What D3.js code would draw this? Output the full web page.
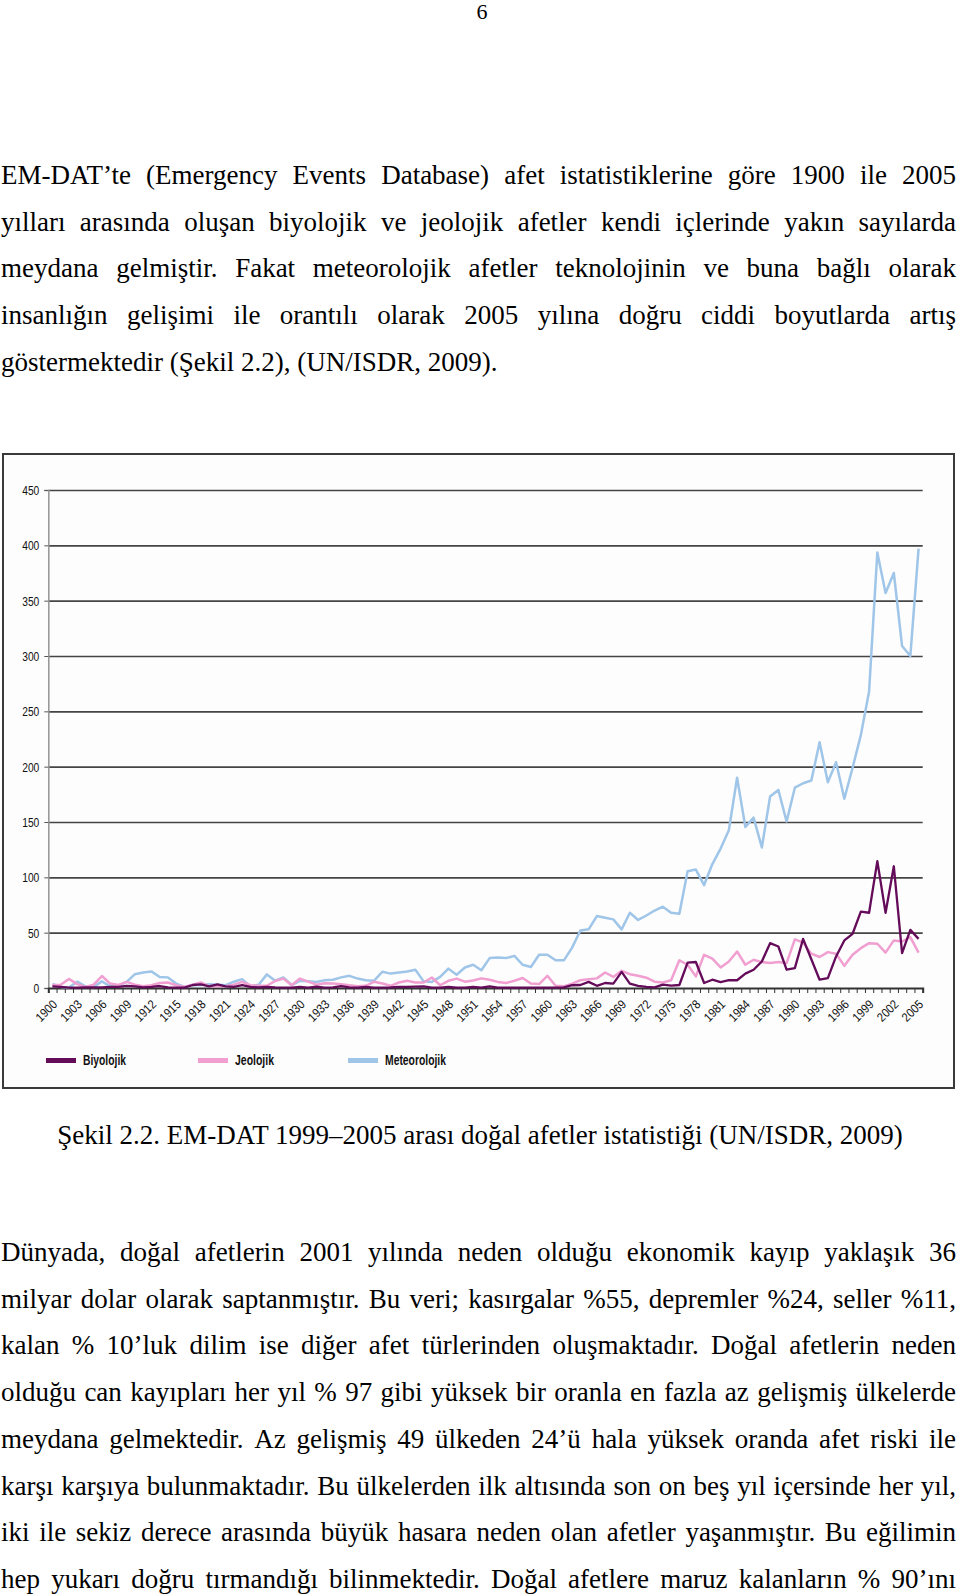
<!DOCTYPE html>
<html>
<head>
<meta charset="utf-8">
<script src="https://cdn.jsdelivr.net/npm/d3@7"></script>
<style>
  body { margin: 0; background: #fff; }
  svg { display: block; }
</style>
</head>
<body>
<div id="page"></div>
<script>
// ---- data ----
const years = d3.range(1900, 2006);

const biyolojik = [
  1.5, 1, 0.3, 0.3, 0.5, 0.5, 0.5, 1, 1, 2,
  1.5, 0.5, 1, 1.8, 0.5, 0.3, 0.3, 2.7, 3.3, 1.5,
  3.3, 1.5, 1, 2.7, 1, 0.5, 1, 0.5, 0.3, 0.3,
  1, 0.3, 1.2, 0.3, 0.5, 1.8, 0.5, 0.3, 1, 0.3,
  0.3, 0.5, 1, 1, 1.2, 1.5, 0.3, 0.3, 1, 0.3,
  0.3, 1, 0.3, 1.5, 0.3, 0.3, 0.3, 0.3, 0.3, 0.3,
  0.3, 0.3, 0.5, 2.5, 2.7, 5.5, 2, 4.5, 4, 14.5,
  4, 2, 1, 0.5, 3, 2.2, 2.7, 23, 23.5, 4.5,
  7.5, 5.4, 7.2, 7, 13, 16.5, 24, 40.5, 37.5, 16.5,
  18, 44.4, 26, 7.5, 9, 28.5, 43, 49, 69, 68,
  114.6, 68, 110, 31.5, 52.5, 44.4
];

const jeolojik = [
  2.5, 3, 8.2, 3.5, 1, 3, 10.8, 4, 2.7, 5.5,
  3, 1.5, 2.5, 4.6, 5, 2.5, 1, 3, 5, 1.5,
  1.5, 1.5, 3, 5.5, 2.5, 2, 2, 6.3, 8.5, 2.5,
  8.5, 5.7, 3, 4.2, 4, 3.5, 2.5, 1.5, 2, 5.7,
  4, 2, 5, 6.5, 5, 5, 9.5, 2.5, 6.5, 8.5,
  5.7, 6.8, 8.7, 7.5, 5.5, 4.5, 6.6, 9, 4, 3.6,
  11, 2, 1.5, 4, 7, 8, 8.7, 14, 10, 15.5,
  12.5, 11, 9.3, 5.7, 5, 7, 25, 21, 10.5, 30,
  26.5, 18.6, 24, 33, 21, 25.5, 23.4, 22.5, 23.4, 22.5,
  44, 41, 31, 28, 32.4, 31, 20, 30, 36, 40.5,
  40, 32, 43, 42, 46, 32
];

const meteorolojik = [
  3.6, 1, 0.5, 5.7, 1.5, 1, 6, 1.5, 2, 5.5,
  12.5, 14, 15, 10, 9.6, 4, 1, 2.5, 2.7, 3.5,
  3, 2.5, 5.7, 8, 1.5, 3, 12.3, 6.6, 9.5, 2.7,
  6.5, 6, 5.5, 7, 7.5, 9.6, 11, 8.5, 7, 6.6,
  14.7, 13, 14, 15, 16.5, 6, 5.5, 10, 17.5, 12,
  18.5, 21, 16, 27, 27.5, 27, 29, 21, 19, 30,
  30, 25, 25, 36.5, 52, 53, 65, 63.5, 62, 53,
  68, 61.5, 65.5, 70, 73.5, 68, 67, 105.5, 107, 93,
  112, 126, 142.5, 190, 145.5, 154, 127, 173, 179, 150.5,
  181, 185, 187.5, 222, 186, 204, 171, 199, 228.5, 268,
  393.5, 357, 375, 309, 300, 397
];

const seriesNames = ['Biyolojik', 'Jeolojik', 'Meteorolojik'];
const yTicks = d3.range(0, 451, 50);
const xLabelYears = d3.range(1900, 2006, 3);

const pageNumber = '6';
const topLines = [
  'EM-DAT’te (Emergency Events Database) afet istatistiklerine göre 1900 ile 2005',
  'yılları arasında oluşan biyolojik ve jeolojik afetler kendi içlerinde yakın sayılarda',
  'meydana gelmiştir. Fakat meteorolojik afetler teknolojinin ve buna bağlı olarak',
  'insanlığın gelişimi ile orantılı olarak 2005 yılına doğru ciddi boyutlarda artış',
  'göstermektedir (Şekil 2.2), (UN/ISDR, 2009).'
];
const captionText = 'Şekil 2.2. EM-DAT 1999–2005 arası doğal afetler istatistiği (UN/ISDR, 2009)';
const bottomLines = [
  'Dünyada, doğal afetlerin 2001 yılında neden olduğu ekonomik kayıp yaklaşık 36',
  'milyar dolar olarak saptanmıştır. Bu veri; kasırgalar %55, depremler %24, seller %11,',
  'kalan % 10’luk dilim ise diğer afet türlerinden oluşmaktadır. Doğal afetlerin neden',
  'olduğu can kayıpları her yıl % 97 gibi yüksek bir oranla en fazla az gelişmiş ülkelerde',
  'meydana gelmektedir. Az gelişmiş 49 ülkeden 24’ü hala yüksek oranda afet riski ile',
  'karşı karşıya bulunmaktadır. Bu ülkelerden ilk altısında son on beş yıl içersinde her yıl,',
  'iki ile sekiz derece arasında büyük hasara neden olan afetler yaşanmıştır. Bu eğilimin',
  'hep yukarı doğru tırmandığı bilinmektedir. Doğal afetlere maruz kalanların % 90’ını'
];

// ---- page ----
const W = 960, H = 1594;
const SERIF = "'Liberation Serif', 'Times New Roman', serif";
const SANS = "'Liberation Sans', Arial, sans-serif";
const bodySize = 27, lineH = 46.7, textLeft = 1, textRight = 956;

const svg = d3.select('#page').append('svg')
  .attr('width', W).attr('height', H)
  .style('background', '#fff');

svg.append('text')
  .attr('x', 482).attr('y', 18.5)
  .attr('text-anchor', 'middle')
  .attr('font-family', SERIF).attr('font-size', 22).attr('fill', '#000')
  .text(pageNumber);

// justified line: words placed one by one so the line fills the measure
function drawLines(lines, baseline0, justifyLast) {
  const measure = svg.append('text')
    .attr('font-family', SERIF).attr('font-size', bodySize)
    .attr('visibility', 'hidden');
  lines.forEach((line, li) => {
    const words = line.split(' ');
    const y = baseline0 + li * lineH;
    const widths = words.map(w => { measure.text(w); return measure.node().getComputedTextLength(); });
    measure.text('a a');
    const aa = measure.node().getComputedTextLength();
    measure.text('aa');
    const spaceW = aa - measure.node().getComputedTextLength();
    const justify = li < lines.length - 1 || justifyLast;
    const total = d3.sum(widths);
    const gap = justify && words.length > 1
      ? (textRight - textLeft - total) / (words.length - 1)
      : spaceW;
    const t = svg.append('text')
      .attr('font-family', SERIF).attr('font-size', bodySize).attr('fill', '#000')
      .attr('y', y);
    let cx = textLeft;
    words.forEach((w, i) => {
      t.append('tspan').attr('x', cx).text(w);
      cx += widths[i] + gap;
    });
  });
  measure.remove();
}

drawLines(topLines, 184, false);
drawLines(bottomLines, 1261, true);

svg.append('text')
  .attr('x', 480).attr('y', 1144)
  .attr('text-anchor', 'middle')
  .attr('font-family', SERIF).attr('font-size', bodySize).attr('fill', '#000')
  .text(captionText);

// ---- chart ----
const frame = { x: 3, y: 454, w: 951, h: 634 };
const plot = { left: 48.3, right: 922.7, top: 490, bottom: 988 };

svg.append('rect')
  .attr('x', frame.x).attr('y', frame.y)
  .attr('width', frame.w).attr('height', frame.h)
  .attr('fill', '#fdfdfd').attr('stroke', '#3a3a3a').attr('stroke-width', 2);

const x = d3.scaleLinear().domain([1899.5, 2005.5]).range([plot.left, plot.right]);
const y = d3.scaleLinear().domain([0, 450]).range([plot.bottom, plot.top]);

// gridlines
svg.append('g')
  .attr('transform', `translate(${plot.left},0)`)
  .call(d3.axisLeft(y).tickValues(yTicks.filter(v => v > 0))
    .tickSize(-(plot.right - plot.left)).tickFormat(''))
  .call(g => g.select('.domain').remove())
  .call(g => g.selectAll('line').attr('stroke', '#454545').attr('stroke-width', 1.7));

// y axis
const yAxisG = svg.append('g')
  .attr('transform', `translate(${plot.left},0)`)
  .call(d3.axisLeft(y).tickValues(yTicks).tickSize(4));
yAxisG.select('.domain').attr('stroke', '#9a9a9a').attr('stroke-width', 1.6);
yAxisG.selectAll('line').attr('stroke', '#555');
yAxisG.selectAll('text')
  .attr('x', 0).attr('dy', '0.36em')
  .attr('transform', 'translate(-9,0) scale(0.82,1)')
  .attr('font-family', SANS).attr('font-size', 12.5).attr('fill', '#111');

// x axis: tick marks at category edges
const xAxisG = svg.append('g')
  .attr('transform', `translate(0,${plot.bottom})`)
  .call(d3.axisBottom(x).tickValues(d3.range(1899.5, 2006, 1)).tickSize(5).tickFormat(''));
xAxisG.select('.domain').attr('stroke', '#333').attr('stroke-width', 2);
xAxisG.selectAll('line').attr('stroke', '#333').attr('stroke-width', 1);

// x labels every third year, rotated
const xLabG = svg.append('g')
  .attr('transform', `translate(0,${plot.bottom})`)
  .call(d3.axisBottom(x).tickValues(xLabelYears).tickSize(0).tickFormat(d => d));
xLabG.select('.domain').remove();
xLabG.selectAll('text')
  .attr('x', 0).attr('y', 0).attr('dy', '0.35em')
  .attr('text-anchor', 'end')
  .attr('transform', 'translate(2,14) rotate(-45) scale(0.88,1)')
  .attr('font-family', SANS).attr('font-size', 12.5).attr('fill', '#111');

// lines
const series = [
  { name: 'Meteorolojik', values: meteorolojik, color: '#9fc5e8', width: 2.5 },
  { name: 'Jeolojik', values: jeolojik, color: '#f09fd0', width: 2.5 },
  { name: 'Biyolojik', values: biyolojik, color: '#640b59', width: 2.3 }
];
const line = d3.line().x((d, i) => x(years[i])).y(d => y(d));
svg.append('g').selectAll('path')
  .data(series).join('path')
  .attr('d', d => line(d.values))
  .attr('fill', 'none')
  .attr('stroke', d => d.color)
  .attr('stroke-width', d => d.width)
  .attr('stroke-linejoin', 'round');

// legend
const legendPos = { Biyolojik: 46, Jeolojik: 198, Meteorolojik: 348 };
const legendTextW = { Biyolojik: 43, Jeolojik: 39, Meteorolojik: 61 };
const legY = 1060.5;
const legend = svg.append('g').selectAll('g')
  .data(seriesNames.map(n => series.find(s => s.name === n)))
  .join('g')
  .attr('transform', d => `translate(${legendPos[d.name]},${legY})`);
legend.append('line')
  .attr('x1', 0).attr('x2', 30).attr('y1', 0).attr('y2', 0)
  .attr('stroke', d => d.color).attr('stroke-width', 5);
legend.append('text')
  .attr('x', 37).attr('y', 4.5)
  .attr('font-family', SANS).attr('font-size', 14).attr('font-weight', 'bold')
  .attr('fill', '#111')
  .attr('textLength', d => legendTextW[d.name])
  .attr('lengthAdjust', 'spacingAndGlyphs')
  .text(d => d.name);
</script>
</body>
</html>
